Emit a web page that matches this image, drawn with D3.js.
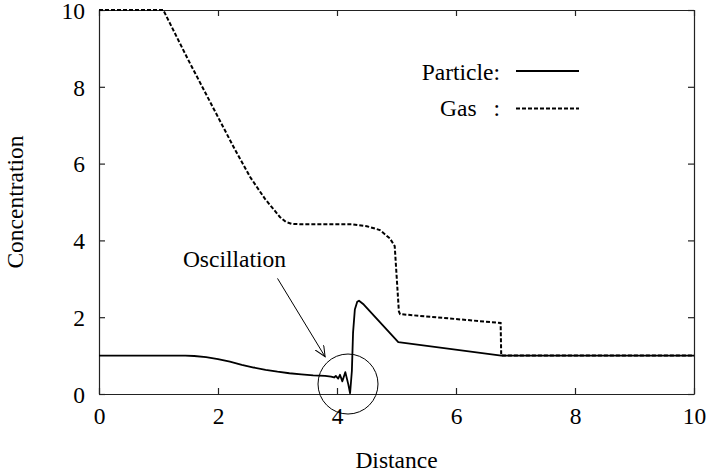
<!DOCTYPE html>
<html>
<head>
<meta charset="utf-8">
<script src="https://cdn.jsdelivr.net/npm/d3@7"></script>
<style>
body{margin:0;background:#fff;}
text{font-family:"Liberation Serif","Times New Roman",serif;fill:#000;}
</style>
</head>
<body>
<div id="wrapper"></div>
<script>
// Data
const particleX=[0,1.45,1.6,1.8,2.0,2.2,2.4,2.6,2.8,3.0,3.2,3.4,3.6,3.8,3.9,3.95,3.98,4.02,4.05,4.09,4.14,4.19,4.22,4.25,4.27,4.30,4.34,4.37,4.45,5.03,6.76,10];
const particleY=[1,1,0.99,0.96,0.91,0.84,0.76,0.69,0.63,0.58,0.54,0.51,0.485,0.47,0.45,0.43,0.47,0.40,0.50,0.33,0.57,0.25,0.02,0.6,1.6,2.2,2.4,2.43,2.33,1.35,1.0,1.0];
const gasX=[0,1.08,1.5,1.92,2.29,2.54,2.79,3.04,3.14,3.24,3.4,4.25,4.5,4.72,4.89,4.97,5.04,5.06,6.75,6.76,10];
const gasY=[10,10,8.7,7.45,6.35,5.65,5.08,4.61,4.48,4.43,4.42,4.42,4.37,4.27,4.05,3.85,2.15,2.08,1.85,1.0,1.0];
const ticks=[0,2,4,6,8,10];

const dimension={width:708,height:472,margin:{top:10,right:14,bottom:78,left:99}};
dimension.boundWidth=dimension.width-dimension.margin.left-dimension.margin.right;
dimension.boundHeight=dimension.height-dimension.margin.top-dimension.margin.bottom;

const svg=d3.select('#wrapper').append('svg')
  .attr('width',dimension.width).attr('height',dimension.height);
const bounds=svg.append('g')
  .attr('transform',`translate(${dimension.margin.left},${dimension.margin.top})`);

const xScale=d3.scaleLinear().domain([0,10]).range([0,dimension.boundWidth]);
const yScale=d3.scaleLinear().domain([0,10]).range([dimension.boundHeight,0]);

// axes with inward ticks on all four sides
const fs='23.5px';
const xAxis=bounds.append('g').attr('transform',`translate(0,${dimension.boundHeight})`)
  .call(d3.axisBottom(xScale).tickValues(ticks).tickSizeInner(-6).tickSizeOuter(0).tickPadding(14));
const xTop=bounds.append('g')
  .call(d3.axisTop(xScale).tickValues(ticks).tickSizeInner(-6).tickSizeOuter(0).tickFormat(''));
const yAxis=bounds.append('g')
  .call(d3.axisLeft(yScale).tickValues(ticks).tickSizeInner(-6).tickSizeOuter(0).tickPadding(14));
const yRight=bounds.append('g').attr('transform',`translate(${dimension.boundWidth},0)`)
  .call(d3.axisRight(yScale).tickValues(ticks).tickSizeInner(-6).tickSizeOuter(0).tickFormat(''));
[xAxis,xTop,yAxis,yRight].forEach(a=>{
  a.select('.domain').attr('stroke','#222').attr('stroke-width',1.2);
  a.selectAll('.tick line').attr('stroke','#222').attr('stroke-width',1.2);
  a.selectAll('text').style('font-size',fs).attr('fill','#000');
});
xAxis.selectAll('text').attr('dy','0.68em');
yAxis.selectAll('text').attr('dy','0.35em');

// axis labels
svg.append('text').text('Distance').attr('x',dimension.margin.left+dimension.boundWidth/2)
  .attr('y',468).attr('text-anchor','middle').style('font-size',fs);
svg.append('text').text('Concentration')
  .attr('transform',`translate(23,${dimension.margin.top+dimension.boundHeight/2}) rotate(-90)`)
  .attr('text-anchor','middle').style('font-size',fs);

// lines
const line=d3.line().x(d=>xScale(d[0])).y(d=>yScale(d[1]));
bounds.append('path').datum(d3.zip(gasX,gasY)).attr('d',line)
  .attr('fill','none').attr('stroke','#000').attr('stroke-width',2).attr('stroke-dasharray','4,2');
bounds.append('path').datum(d3.zip(particleX,particleY)).attr('d',line)
  .attr('fill','none').attr('stroke','#000').attr('stroke-width',1.8).attr('stroke-linejoin','round');

// legend
const lg=svg.append('g');
lg.append('text').text('Particle:').attr('x',500).attr('y',80).attr('text-anchor','end').style('font-size',fs);
lg.append('line').attr('x1',516).attr('x2',579).attr('y1',71).attr('y2',71)
  .attr('stroke','#000').attr('stroke-width',1.8);
lg.append('text').text('Gas').attr('x',440).attr('y',116).style('font-size',fs);
lg.append('text').text(':').attr('x',500).attr('y',116).attr('text-anchor','end').style('font-size',fs);
lg.append('line').attr('x1',516).attr('x2',579).attr('y1',108.5).attr('y2',108.5)
  .attr('stroke','#000').attr('stroke-width',2).attr('stroke-dasharray','4,2');

// annotation
const defs=svg.append('defs');
defs.append('marker').attr('id','arrow').attr('viewBox','0 0 12 10').attr('refX',11).attr('refY',5)
  .attr('markerWidth',12).attr('markerHeight',10).attr('markerUnits','userSpaceOnUse').attr('orient','auto')
  .append('path').attr('d','M0,0 L11,5 L0,10').attr('fill','none').attr('stroke','#000').attr('stroke-width',1);
bounds.append('text').text('Oscillation').attr('x',xScale(1.41)).attr('y',yScale(3.31)).style('font-size',fs);
bounds.append('line').attr('x1',xScale(3.0)).attr('y1',yScale(3.01)).attr('x2',xScale(3.8)).attr('y2',yScale(0.97))
  .attr('stroke','#000').attr('stroke-width',1).attr('marker-end','url(#arrow)');
bounds.append('circle').attr('cx',xScale(4.185)).attr('cy',yScale(0.26)).attr('r',30)
  .attr('fill','none').attr('stroke','#000').attr('stroke-width',1);
</script>
</body>
</html>
